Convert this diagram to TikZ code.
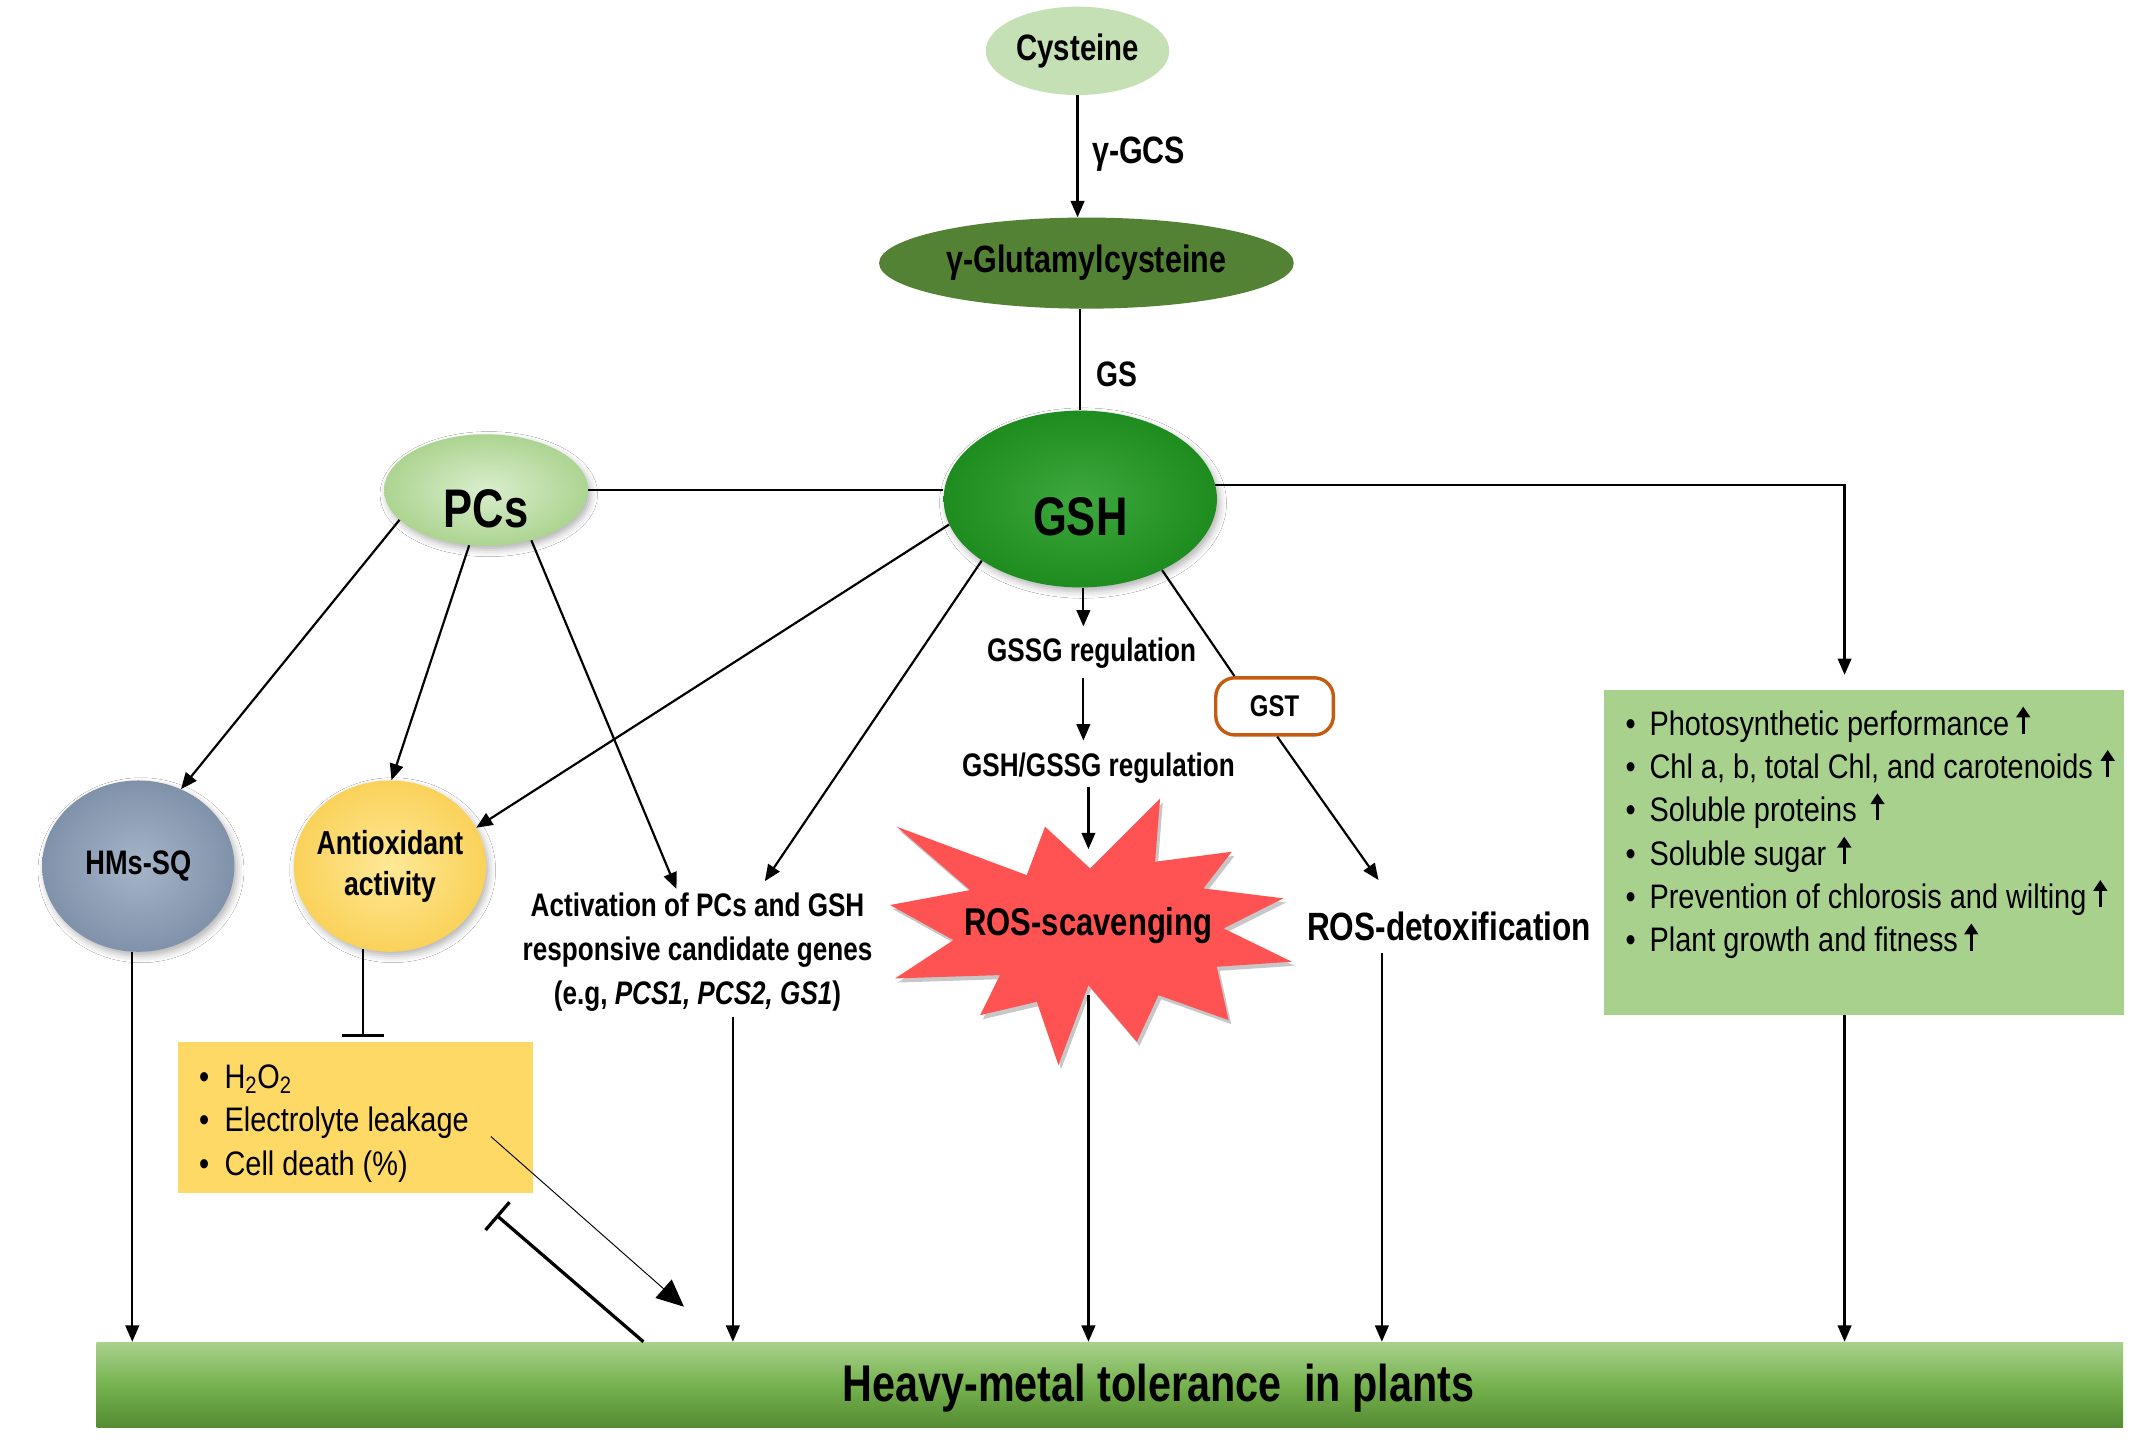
\documentclass[tikz,border=0pt]{standalone}
\usepackage{fontspec}
\setmainfont{Liberation Sans}[FakeStretch=0.8]
\newfontfamily\rgf{Liberation Sans}[FakeStretch=0.85]
\usetikzlibrary{shapes.geometric,arrows.meta,calc,shadows.blur}
\definecolor{cysc}{RGB}{197,224,180}
\definecolor{gluc}{RGB}{84,130,53}
\definecolor{gshin}{RGB}{62,168,62}
\definecolor{gshout}{RGB}{30,140,30}
\definecolor{pcsin}{RGB}{218,238,205}
\definecolor{pcsout}{RGB}{172,212,145}
\definecolor{hmsin}{RGB}{165,180,200}
\definecolor{hmsout}{RGB}{128,146,170}
\definecolor{antin}{RGB}{255,232,150}
\definecolor{antout}{RGB}{250,210,90}
\definecolor{yboxc}{RGB}{255,217,102}
\definecolor{gboxc}{RGB}{169,209,142}
\definecolor{starc}{RGB}{255,82,82}
\definecolor{gstc}{RGB}{197,90,17}
\definecolor{bartop}{RGB}{169,209,142}
\definecolor{barmid}{RGB}{118,178,78}
\definecolor{barbot}{RGB}{84,140,50}
\begin{document}
\begin{tikzpicture}[x=1pt,y=-1pt,
  arr/.style={line width=1.6pt,-{Triangle[length=12pt,width=10pt]}},
  plainln/.style={line width=1.6pt},
  inh/.style={line width=1.6pt,-{Bar[width=31pt]}},
  thinarr/.style={line width=0.7pt,-{Triangle[length=20pt,width=18pt]}},
  thickinh/.style={line width=2.4pt,-{Bar[width=27pt]}},
  uparr/.style={line width=2.3pt,-{Triangle[length=8pt,width=10pt]}},
  lbl/.style={inner sep=0pt},
  listitem/.style={inner sep=0pt,anchor=base west,font=\rgf\fontsize{25}{30}\selectfont},
  softshadow/.style={blur shadow={shadow xshift=2pt,shadow yshift=-3pt,shadow blur radius=5pt,shadow opacity=30}},
]
\fill[white] (0,0) rectangle (1568,1065.7);
\useasboundingbox (0,0) rectangle (1568,1065.7);

% ---------- shapes ----------
\node[ellipse,fill=cysc,minimum width=135pt,minimum height=65pt,inner sep=0pt,
      font=\bfseries\fontsize{27}{32}\selectfont] (cys) at (792.5,37.4) {Cysteine};
\node[ellipse,fill=gluc,minimum width=305pt,minimum height=67pt,inner sep=0pt,
      font=\bfseries\fontsize{28}{33}\selectfont] (glu) at (799,193.5) {γ-Glutamylcysteine};
\node[ellipse,softshadow,inner color=gshin,outer color=gshout,minimum width=201pt,
      minimum height=130pt,inner sep=0pt] (gsh) at (794.5,367) {};
\node[lbl,anchor=base,font=\bfseries\fontsize{40}{48}\selectfont] (gsht) at (794.5,394) {GSH};
\node[ellipse,softshadow,inner color=pcsin,outer color=pcsout,minimum width=150pt,
      minimum height=82pt,inner sep=0pt] (pcs) at (357.5,360.4) {};
\node[lbl,anchor=base,font=\bfseries\fontsize{40}{48}\selectfont] (pcst) at (357.5,388) {PCs};
\node[ellipse,softshadow,inner color=hmsin,outer color=hmsout,minimum width=141.4pt,
      minimum height=126pt,inner sep=0pt,font=\bfseries\fontsize{25}{30}\selectfont]
      (hms) at (101.7,637) {HMs-SQ};
\node[ellipse,softshadow,inner color=antin,outer color=antout,minimum width=141.4pt,
      minimum height=126pt,inner xsep=-20pt,inner ysep=0pt,align=center,
      font=\bfseries\fontsize{24.5}{30.5}\selectfont] (ant) at (286.8,637) {Antioxidant\\activity};

\node[fill=yboxc,minimum width=261.2pt,minimum height=111.7pt,inner sep=0pt] (ybox) at (261.2,821.85) {};
\node[fill=gboxc,minimum width=382.4pt,minimum height=239pt,inner sep=0pt] (gbox) at (1370.8,627) {};
\node[top color=bartop,bottom color=barbot,middle color=barmid,minimum width=1490.5pt,
      minimum height=63pt,inner sep=0pt] (bar) at (816.25,1018.5) {};
\node[lbl,anchor=base,font=\bfseries\fontsize{38}{44}\selectfont] (bart) at (852,1031)
      {Heavy-metal tolerance\ \ in plants};

% star
\fill[black,opacity=0.22,shift={(2,3)}]
  (654.6,665.6) -- (713.5,654.6) -- (659.5,608.0) -- (755.1,643.6) -- (768.6,608.0) --
  (801.7,638.7) -- (853.2,587.2) -- (849.5,633.8) -- (905.9,626.4) -- (885.1,653.4) --
  (943.9,660.7) -- (899.8,682.8) -- (950.1,707.3) -- (894.9,711.0) -- (903.5,750.2) --
  (852.0,731.9) -- (836.1,766.2) -- (800.5,724.5) -- (778.4,783.3) -- (762.5,736.8) --
  (720.8,746.6) -- (735.5,717.1) -- (658.3,719.6) -- (701.2,691.4) -- cycle;
\fill[starc]
  (654.6,665.6) -- (713.5,654.6) -- (659.5,608.0) -- (755.1,643.6) -- (768.6,608.0) --
  (801.7,638.7) -- (853.2,587.2) -- (849.5,633.8) -- (905.9,626.4) -- (885.1,653.4) --
  (943.9,660.7) -- (899.8,682.8) -- (950.1,707.3) -- (894.9,711.0) -- (903.5,750.2) --
  (852.0,731.9) -- (836.1,766.2) -- (800.5,724.5) -- (778.4,783.3) -- (762.5,736.8) --
  (720.8,746.6) -- (735.5,717.1) -- (658.3,719.6) -- (701.2,691.4) -- cycle;

% ---------- text nodes ----------
\node[lbl,anchor=base west,font=\bfseries\fontsize{28}{33}\selectfont] (gcs) at (803,120.5) {γ-GCS};
\node[lbl,anchor=base west,font=\bfseries\fontsize{26}{31}\selectfont] (gs) at (806.5,284) {GS};
\node[lbl,anchor=base,text height=25.8pt,text depth=11.5pt,font=\bfseries\fontsize{24}{29}\selectfont]
      (gssg) at (802.8,486.7) {GSSG regulation};
\node[lbl,anchor=base,text height=26.4pt,text depth=7.4pt,font=\bfseries\fontsize{24}{29}\selectfont]
      (gsr) at (807.9,571.2) {GSH/GSSG regulation};
\node[lbl,anchor=base,text height=63pt,text depth=44pt,font=\bfseries\fontsize{28.5}{34}\selectfont]
      (ros) at (800.5,687.7) {ROS-scavenging};
\node[lbl,anchor=base,text height=44pt,text depth=9pt,font=\bfseries\fontsize{29}{35}\selectfont]
      (detox) at (1065.8,691.4) {ROS-detoxification};
\node[draw=gstc,line width=2.5pt,rounded corners=14pt,fill=white,minimum width=86.5pt,
      minimum height=42pt,inner sep=0pt,font=\bfseries\fontsize{22}{26}\selectfont]
      (gst) at (937.4,519.5) {GST};
\node[lbl,align=center,font=\bfseries\fontsize{24}{32.3}\selectfont] (act) at (513,700.5)
      {Activation of PCs and GSH\\responsive candidate genes\\(e.g, \textit{PCS1, PCS2, GS1})};

% green box items
\node[listitem] (g1) at (1195.3,540.6) {\makebox[17.7pt][l]{•}Photosynthetic performance};
\node[listitem] (g2) at (1195.3,572.5) {\makebox[17.7pt][l]{•}Chl a, b, total Chl, and carotenoids};
\node[listitem] (g3) at (1195.3,604.4) {\makebox[17.7pt][l]{•}Soluble proteins};
\node[listitem] (g4) at (1195.3,636.3) {\makebox[17.7pt][l]{•}Soluble sugar};
\node[listitem] (g5) at (1195.3,668.2) {\makebox[17.7pt][l]{•}Prevention of chlorosis and wilting};
\node[listitem] (g6) at (1195.3,700.1) {\makebox[17.7pt][l]{•}Plant growth and fitness};
\draw[uparr] ($(g1.base east)+(10,-1)$) -- ++(0,-20);
\draw[uparr] ($(g2.base east)+(10.7,-1)$) -- ++(0,-20);
\draw[uparr] ($(g3.base east)+(15,-1)$) -- ++(0,-20);
\draw[uparr] ($(g4.base east)+(13,-1)$) -- ++(0,-20);
\draw[uparr] ($(g5.base east)+(10,-1)$) -- ++(0,-20);
\draw[uparr] ($(g6.base east)+(9.6,-1)$) -- ++(0,-20);

% yellow box items
\node[listitem] (y1) at (146.3,800.5) {\makebox[18.7pt][l]{•}H\textsubscript{2}O\textsubscript{2}};
\node[listitem] (y2) at (146.3,832.5) {\makebox[18.7pt][l]{•}Electrolyte leakage};
\node[listitem] (y3) at (146.3,864.5) {\makebox[18.7pt][l]{•}Cell death (\%)};

% ---------- coordinates ----------
\coordinate (gin) at ($(gbox.north)+(-14.2,-11)$);
\coordinate (thinend) at (503,961);
\coordinate (tend) at (365,893.6);

% ---------- connectors ----------
\draw[arr] (cys.south) -- (cys.south |- glu.north);
\draw[plainln] (gsh.north |- glu.south) -- (gsh.north);
\draw[plainln] (pcs.east) -- (pcs.east -| gsh.west);
\draw[arr] (gsh.6.3) -| (gin);
\draw[arr] (gin |- gbox.south) -- (gin |- bar.north);
\draw[arr] (gsh.-88) -- (gsh.-88 |- gssg.north);
\draw[arr] (gssg.south -| gsh.-88) -- (gsh.-88 |- gsr.north);
\draw[arr] (gsr.south -| ros.north) -- (ros.north);
\draw[arr] (ros.south) -- (ros.south |- bar.north);
\draw[plainln] (gsh.-41.7) -- (gst.143.3);
\draw[arr] (gst.-85) -- ($(detox.north)+(-52,0)$);
\draw[arr] ($(detox.south)+(-49.5,0)$) coordinate (dxo) -- (dxo |- bar.north);
\draw[arr] (gsh.191) -- (ant.24);
\draw[arr] (gsh.212.6) -- ($(act.north)+(49.5,-8.7)$);
\draw[arr] (pcs.199) -- (hms.61.5);
\draw[arr] (pcs.253) -- (ant.89);
\draw[arr] (pcs.-48) -- ($(act.north)+(-15.5,-3)$);
\draw[arr] ($(act.south)+(26,3.4)$) coordinate (ao) -- (ao |- bar.north);
\draw[arr] (hms.-94) -- (hms.-94 |- bar.north);
\draw[inh] (ant.252) -- ($(ant.252 |- ybox.north)+(0,-3.5)$);
\draw[thinarr] ($(ybox.east)+(-31,14)$) -- (thinend);
\draw[thickinh] ($(bar.north west)+(402.4,0)$) -- (tend);
\end{tikzpicture}
\end{document}
